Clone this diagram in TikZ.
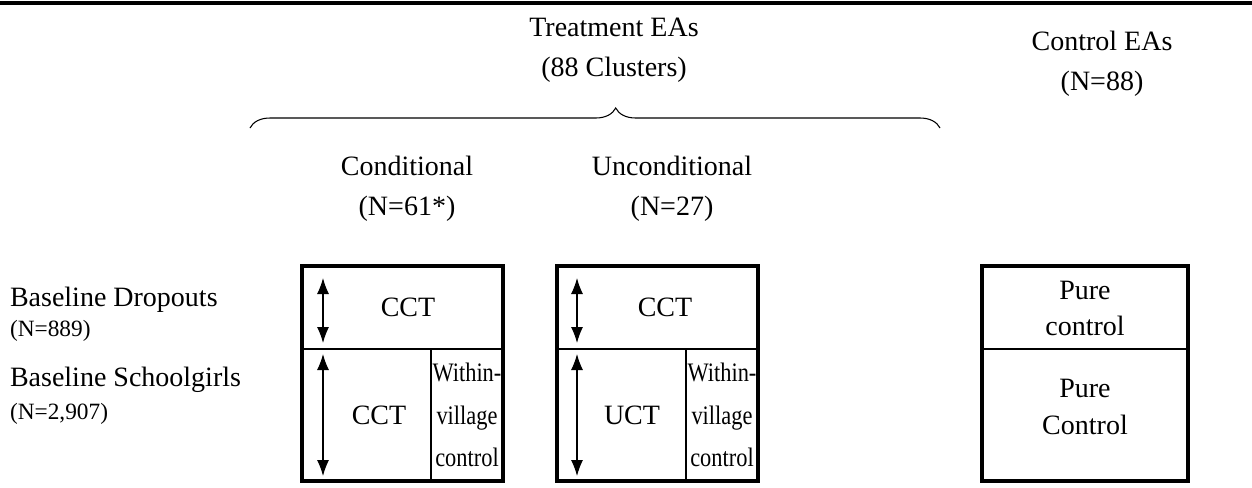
\documentclass[tikz,border=0pt]{standalone}
\usepackage{fontspec}
\setmainfont{Liberation Serif}
\newfontfamily\narrowserif[FakeStretch=0.84]{Liberation Serif}
\usetikzlibrary{arrows.meta,decorations.pathreplacing}

\begin{document}
\begin{tikzpicture}[y=0.75pt, x=0.75pt, yscale=-1, inner sep=0pt, outer sep=0pt,
  lbl/.style={font=\fontsize{21}{30}\selectfont, align=center},
  sml/.style={font=\fontsize{17.5}{21}\selectfont},
  celltxt/.style={font=\fontsize{21}{32}\selectfont, align=center},
  narrowtxt/.style={font=\narrowserif\fontsize{20}{32}\selectfont, align=center},
  cellline/.style={draw=black, line width=2.3pt},
  cellsplit/.style={draw=black, line width=2pt},
  dblarrow/.style={draw=black, line width=0.8pt, {Latex[length=12pt,width=9pt]}-{Latex[length=12pt,width=9pt]}}]
\useasboundingbox (0,0) rectangle (1252,487);
\path[draw=black, line width=3pt] (0,3) -- (1252,3);

% headings
\node[lbl] (treat) at (614,50) {Treatment EAs\\(88 Clusters)};
\node[lbl] (ctrl) at (1102,64) {Control EAs\\(N=88)};
\coordinate (bl) at (250,128);
\coordinate (br) at (940,128);
\path[draw=black, line width=0.8pt, decorate, decoration={brace, amplitude=15pt, aspect=0.53}] (bl) -- (br);
\node[lbl] (cond) at (407,189) {Conditional\\(N=61*)};
\node[lbl] (uncond) at (672,189) {Unconditional\\(N=27)};

% row labels
\node[lbl, anchor=west] (drop) at (10,300) {Baseline Dropouts};
\node[sml, anchor=west] (dropn) at (10,331) {(N=889)};
\node[lbl, anchor=west] (girls) at (10,380) {Baseline Schoolgirls};
\node[sml, anchor=west] (girlsn) at (10,414) {(N=2,907)};

% conditional arm
\path[cellline] (302,266) rectangle (503,481);
\path[cellsplit] (302,349) -- (503,349) (431,349) -- (431,481);
\node[celltxt] (cct1) at (408,307) {CCT};
\node[celltxt] (cct2) at (379,415) {CCT};
\node[narrowtxt] (wv1) at (467,415) {Within-\\village\\control};
\coordinate (a1) at (323,278);
\coordinate (a2) at (323,343);
\coordinate (a3) at (323,354);
\coordinate (a4) at (323,476);
\draw[dblarrow] (a1) -- (a2);
\draw[dblarrow] (a3) -- (a4);

% unconditional arm
\path[cellline] (557,266) rectangle (758,481);
\path[cellsplit] (557,349) -- (758,349) (686,349) -- (686,481);
\node[celltxt] (cct3) at (665,307) {CCT};
\node[celltxt] (uct) at (632,415) {UCT};
\node[narrowtxt] (wv2) at (722,415) {Within-\\village\\control};
\coordinate (b1) at (577,278);
\coordinate (b2) at (577,343);
\coordinate (b3) at (577,354);
\coordinate (b4) at (577,476);
\draw[dblarrow] (b1) -- (b2);
\draw[dblarrow] (b3) -- (b4);

% pure control
\path[cellline] (982,266) rectangle (1188,481);
\path[cellsplit] (982,349) -- (1188,349);
\node[celltxt, font=\fontsize{21}{27}\selectfont] (pc1) at (1085,308) {Pure\\control};
\node[celltxt, font=\fontsize{21}{28}\selectfont] (pc2) at (1085,407) {Pure\\Control};
\end{tikzpicture}
\end{document}
